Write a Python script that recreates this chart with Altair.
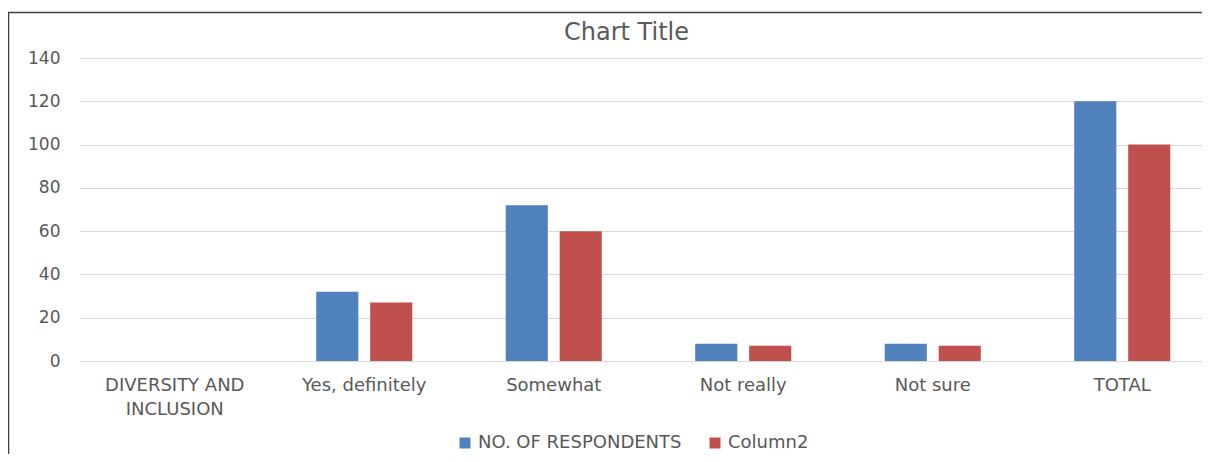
import altair as alt
import pandas as pd

categories = ["DIVERSITY AND INCLUSION", "Yes, definitely", "Somewhat", "Not really", "Not sure", "TOTAL"]
series_names = ["NO. OF RESPONDENTS", "Column2"]
respondents = [None, 32, 72, 8, 8, 120]
column2 = [None, 27, 60, 7, 7, 100]
y_ticks = [0, 20, 40, 60, 80, 100, 120, 140]
colors = ["#4F81BD", "#C0504D"]
chart_title = "Chart Title"

rows = []
for c, a, b in zip(categories, respondents, column2):
    rows.append({"category": c, "series": series_names[0], "value": a})
    rows.append({"category": c, "series": series_names[1], "value": b})
df = pd.DataFrame(rows)

W, H = 1120, 303
X_RANGE = 1137  # category bands continue past the visible right edge, as in the cropped original
FONT = "DejaVu Sans"
GRAY = "#595959"

bars = alt.Chart(df).mark_bar().encode(
    x=alt.X("category:N", sort=categories,
            scale=alt.Scale(paddingInner=0.493, paddingOuter=0.2465, range=[0, X_RANGE]),
            axis=alt.Axis(title=None, labelAngle=0, ticks=False, domainColor="#D9D9D9",
                          labelFont=FONT, labelFontSize=18, labelColor=GRAY, labelPadding=15,
                          labelLimit=300, labelLineHeight=24, grid=False,
                          labelExpr="datum.label == 'DIVERSITY AND INCLUSION' ? ['DIVERSITY AND', 'INCLUSION'] : datum.label")),
    xOffset=alt.XOffset("series:N", sort=series_names,
                        scale=alt.Scale(domain=series_names, paddingInner=0.22, paddingOuter=0)),
    y=alt.Y("value:Q", scale=alt.Scale(domain=[0, 140], nice=False),
            axis=alt.Axis(title=None, values=y_ticks, ticks=False, tickSize=0, domain=False,
                          gridColor="#D9D9D9", labelFont=FONT, labelFontSize=17, labelColor=GRAY,
                          labelPadding=20)),
    color=alt.Color("series:N", sort=series_names,
                    scale=alt.Scale(domain=series_names, range=colors),
                    legend=alt.Legend(title=None, orient="none", direction="horizontal",
                                      legendX=376, legendY=376, symbolType="square",
                                      symbolSize=121, symbolStrokeWidth=0, labelFont=FONT,
                                      labelFontSize=18, labelColor=GRAY, labelOffset=4,
                                      labelLimit=400, columnPadding=24, padding=0)),
)

frame = alt.Data(values=[{"k": 1}])
top_line = alt.Chart(frame).mark_rule(color="#404040", strokeWidth=1.5).encode(
    x=alt.value(-72), x2=alt.value(W + 2), y=alt.value(-45.5))
left_line = alt.Chart(frame).mark_rule(color="#404040", strokeWidth=1.5).encode(
    x=alt.value(-71.5), y=alt.value(-46), y2=alt.value(H + 93))
title_text = alt.Chart(frame).mark_text(
    text=chart_title, font=FONT, fontSize=24, color=GRAY, align="center", baseline="alphabetic"
).encode(x=alt.value(546.5), y=alt.value(-18))

chart = alt.layer(bars, top_line, left_line, title_text).properties(
    width=W, height=H,
    autosize=alt.AutoSizeParams(type="none"),
    padding={"left": 72, "top": 50, "right": 2, "bottom": 93},
).configure(background="white").configure_view(strokeWidth=0, stroke="transparent")

chart.save("out.html", embed_options={"renderer": "svg", "actions": False})
